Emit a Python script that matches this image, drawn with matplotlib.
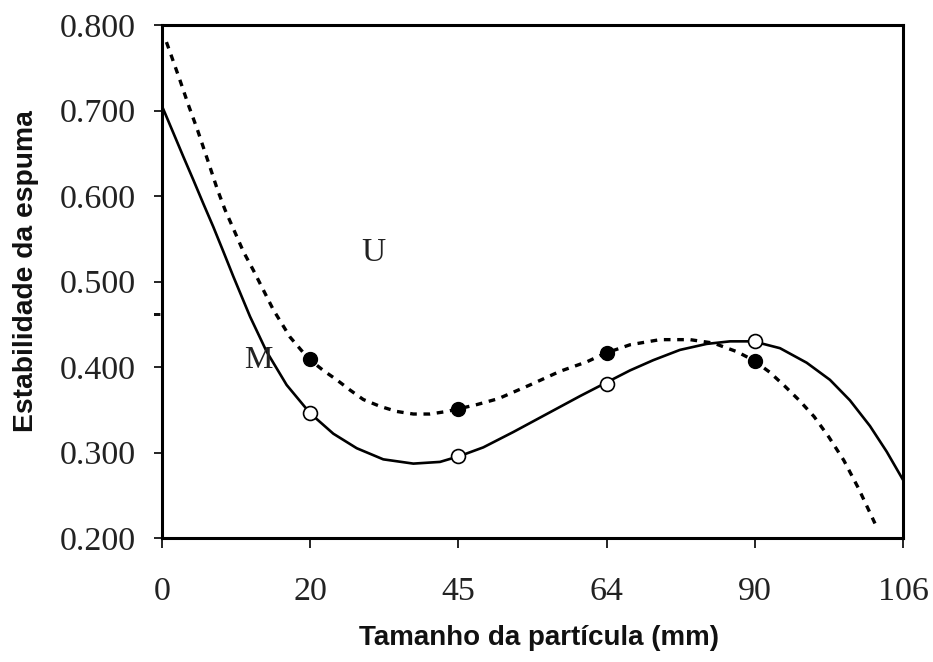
import matplotlib
matplotlib.use("Agg")
import matplotlib.pyplot as plt

# Categories (equally spaced on the x axis)
particle_sizes = ["0", "20", "45", "64", "90", "106"]

# Measured points (positions are category indices 1..4)
point_idx = [1, 2, 3, 4]
m_points = [0.346, 0.296, 0.380, 0.430]   # open circles (M)
u_points = [0.409, 0.351, 0.416, 0.407]   # filled circles (U)

# Fitted curve M (solid)
m_curve_x = [0.000, 0.020, 0.076, 0.144, 0.211, 0.279, 0.346, 0.414, 0.481, 0.594,
             0.706, 0.841, 0.999, 1.156, 1.314, 1.493, 1.696, 1.876, 2.011, 2.168,
             2.371, 2.596, 2.821, 2.989, 3.158, 3.315, 3.495, 3.675, 3.833, 3.990,
             4.170, 4.350, 4.507, 4.642, 4.777, 4.890, 5.000]
m_curve_y = [0.705, 0.697, 0.674, 0.646, 0.619, 0.591, 0.564, 0.535, 0.506, 0.459,
             0.418, 0.379, 0.346, 0.322, 0.305, 0.292, 0.287, 0.289, 0.296, 0.306,
             0.324, 0.345, 0.366, 0.381, 0.396, 0.408, 0.420, 0.427, 0.430, 0.430,
             0.422, 0.405, 0.385, 0.361, 0.331, 0.301, 0.268]

# Fitted curve U (dashed)
u_curve_x = [0.030, 0.065, 0.120, 0.177, 0.240, 0.312, 0.373, 0.425, 0.486, 0.549,
             0.617, 0.751, 0.864, 0.987, 1.088, 1.179, 1.269, 1.358, 1.471, 1.584,
             1.696, 1.808, 1.921, 1.999, 2.124, 2.270, 2.483, 2.686, 2.866, 2.989,
             3.158, 3.360, 3.563, 3.720, 3.878, 3.990, 4.100, 4.200, 4.300, 4.400,
             4.500, 4.600, 4.700, 4.811]
u_curve_y = [0.780, 0.763, 0.736, 0.707, 0.677, 0.640, 0.608, 0.584, 0.560, 0.535,
             0.513, 0.467, 0.435, 0.410, 0.396, 0.385, 0.373, 0.362, 0.354, 0.348,
             0.345, 0.345, 0.348, 0.351, 0.356, 0.363, 0.379, 0.395, 0.406, 0.416,
             0.426, 0.432, 0.432, 0.428, 0.418, 0.408, 0.394, 0.378, 0.361, 0.342,
             0.318, 0.291, 0.258, 0.217]

y_ticks = [0.2, 0.3, 0.4, 0.5, 0.6, 0.7, 0.8]
y_ticklabels = ["0.200", "0.300", "0.400", "0.500", "0.600", "0.700", "0.800"]

fig = plt.figure(figsize=(9.33, 6.62), dpi=100)
ax = fig.add_axes([162/933, 1-538/662, (903-162)/933, (538-25)/662])

ax.plot(m_curve_x, m_curve_y, color="black", lw=1.9, solid_joinstyle="round",
        solid_capstyle="round", zorder=2)
ax.plot(u_curve_x, u_curve_y, color="black", lw=2.4, linestyle=(0, (2.0, 2.0)),
        dash_joinstyle="round", zorder=2)

ax.plot(point_idx, m_points, linestyle="none", marker="o", markersize=10,
        markerfacecolor="white", markeredgecolor="black", markeredgewidth=1.2, zorder=3)
ax.plot(point_idx, u_points, linestyle="none", marker="o", markersize=10,
        markerfacecolor="black", markeredgecolor="black", zorder=3)

ax.text(1.424, 0.534, "U", family="Liberation Serif", fontsize=24, ha="center",
        va="center", color="#222222")
ax.text(0.648, 0.408, "M", family="Liberation Serif", fontsize=23, ha="center",
        va="center", color="#222222")

ax.set_xlim(0, 5)
ax.set_ylim(0.2, 0.8)
ax.set_xticks(range(len(particle_sizes)))
ax.set_xticklabels(particle_sizes)
ax.set_yticks(y_ticks)
ax.set_yticklabels(y_ticklabels)

for lab in ax.get_xticklabels() + ax.get_yticklabels():
    lab.set_family("Liberation Serif")
    lab.set_fontsize(24.5)
    lab.set_color("#222222")

ax.tick_params(axis="x", direction="out", length=7, width=1.2, pad=21)
ax.tick_params(axis="y", direction="out", length=6, width=1.2, pad=13)

for s in ax.spines.values():
    s.set_linewidth(2.2)
    s.set_color("black")

# small stray dash next to the y axis
fig.text(157/933, 1-314/662, "-", ha="center", va="center",
         family="Liberation Sans", fontweight="bold", fontsize=18, color="#111111")

fig.text(26.5/933, 1-271/662, "Estabilidade da espuma", rotation=90, ha="center",
         va="center", family="Liberation Sans", fontweight="bold", fontsize=20.3,
         color="#111111")
fig.text(539/933, 1-638/662, "Tamanho da partícula (mm)", ha="center", va="center",
         family="Liberation Sans", fontweight="bold", fontsize=20,
         color="#111111")

fig.savefig("out.png", dpi=100, facecolor="white")
